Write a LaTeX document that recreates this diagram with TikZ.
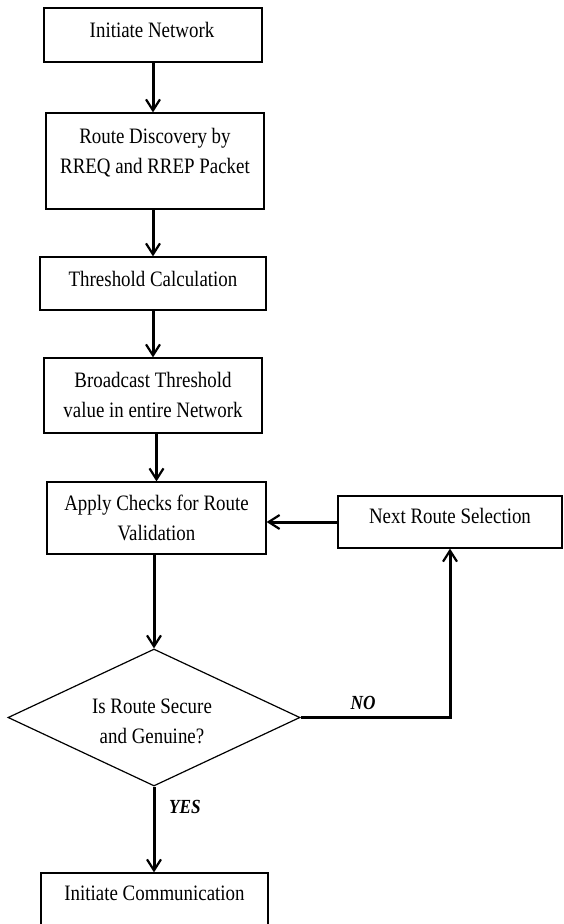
\documentclass[tikz,border=0pt]{standalone}
\usepackage{fontspec}
\setmainfont{Liberation Serif}[FakeStretch=0.86]
\usetikzlibrary{arrows.meta,shapes.geometric}
\begin{document}
\begin{tikzpicture}[x=1pt,y=1pt,
  box/.style={draw, line width=1.2pt, inner sep=0pt},
  txt/.style={inner sep=0pt, align=center, font=\fontsize{22}{30}\selectfont},
  lab/.style={inner sep=0pt, anchor=base, font=\fontsize{20}{24}\selectfont\bfseries\itshape},
  arr/.style={line width=3pt, -{Straight Barb[length=11pt,width=14pt,line width=2.2pt]}}]
\useasboundingbox (0,0) rectangle (563,-924);
% boxes
\node[box, minimum width=218pt, minimum height=54pt] (b1) at (153,-35) {};
\node[txt] (t1) at (152,-31) {Initiate Network\strut};
\node[box, minimum width=218pt, minimum height=96pt] (b2) at (155,-161) {};
\node[txt] (t2) at (155,-152) {Route Discovery by\strut\\RREQ and RREP Packet\strut};
\node[box, minimum width=226pt, minimum height=53pt] (b3) at (153,-283.5) {};
\node[txt] (t3) at (153,-280) {Threshold Calculation\strut};
\node[box, minimum width=218pt, minimum height=75pt] (b4) at (153,-395.5) {};
\node[txt] (t4) at (153,-396) {Broadcast Threshold\strut\\value in entire Network\strut};
\node[box, minimum width=219pt, minimum height=72pt] (b5) at (156.5,-518) {};
\node[txt] (t5) at (156.5,-519) {Apply Checks for Route\strut\\Validation\strut};
\node[box, minimum width=224pt, minimum height=52pt] (b6) at (450,-522) {};
\node[txt] (t6) at (450,-517) {Next Route Selection\strut};
\node[box, diamond, minimum width=292pt, minimum height=137pt] (d) at (154,-717.5) {};
\node[txt] (td) at (152,-722) {Is Route Secure\strut\\and Genuine?\strut};
\node[box, minimum width=227pt, minimum height=80pt] (b7) at (154.5,-913) {};
\node[txt] (t7) at (154.5,-894) {Initiate Communication\strut};
% labels
\node[lab] (no) at (363,-709) {NO};
\node[lab] (yes) at (185,-813) {YES};
% connectors
\draw[arr] (b1.south) -- (b1.south |- b2.north);
\draw[arr] (b3.north |- b2.south) -- (b3.north);
\draw[arr] (b3.south) -- (b3.south |- b4.north);
\draw[arr] (b4.south -| b5.north) -- (b5.north);
\draw[arr] (d.north |- b5.south) -- (d.north);
\draw[arr] (d.south) -- (d.south |- b7.north);
\draw[arr] (d.east) -- (d.east -| b6.south) -- (b6.south);
\draw[arr] (b6.west) -- (b6.west -| b5.east);
\end{tikzpicture}
\end{document}
